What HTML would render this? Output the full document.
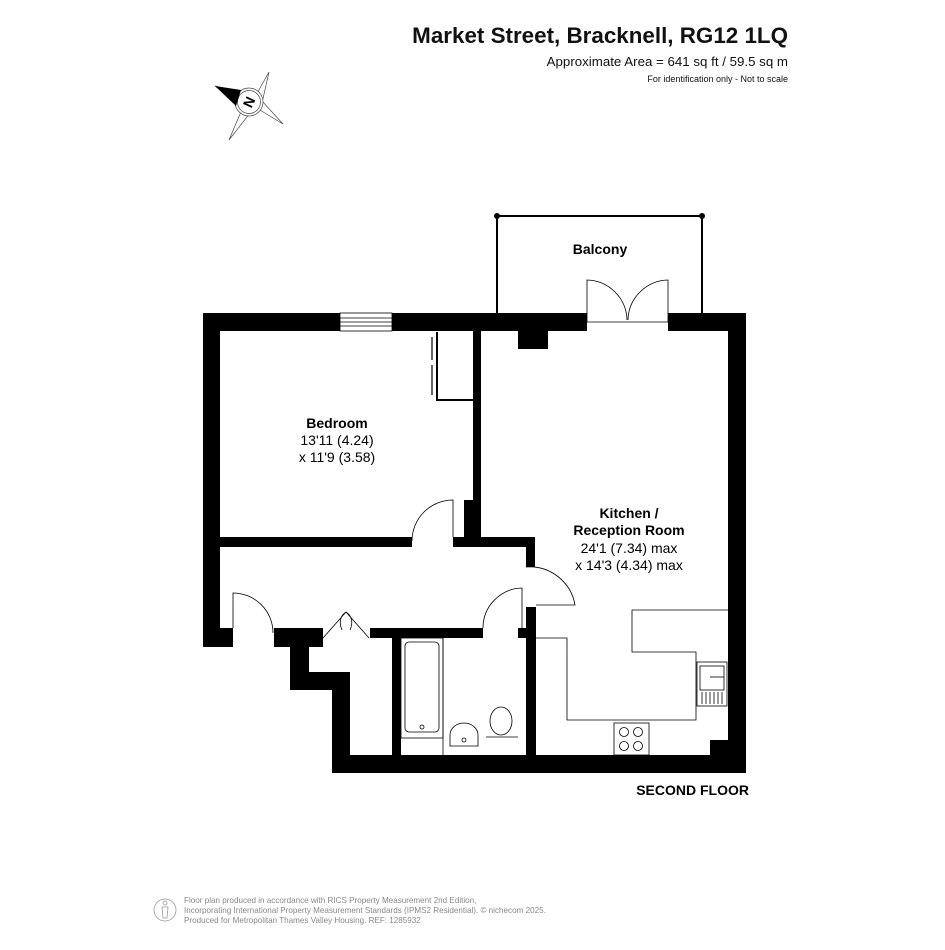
<!DOCTYPE html>
<html><head><style>
body{margin:0;background:#fff;width:945px;height:945px;overflow:hidden;font-family:"Liberation Sans",Arial,sans-serif}
</style></head><body>
<svg width="945" height="945" viewBox="0 0 945 945" xmlns="http://www.w3.org/2000/svg" font-family="Liberation Sans, Arial, sans-serif">
<rect width="945" height="945" fill="#fff"/>
<text x="788" y="43" text-anchor="end" font-size="22.4" font-weight="bold" fill="#111">Market Street, Bracknell, RG12 1LQ</text>
<text x="788" y="66" text-anchor="end" font-size="13.3" fill="#111">Approximate Area = 641 sq ft / 59.5 sq m</text>
<text x="788" y="82" text-anchor="end" font-size="9" fill="#111">For identification only - Not to scale</text>
<!-- compass -->
<g stroke="#444" stroke-width="0.7" fill="#fff">
<path d="M269,72 L255,97 L262,103 Z M283,124 L255,107 L262,101 Z M229,140 L243,107 L254,108 Z M215,86 L244,108 L253,96 Z"/>
<circle cx="249" cy="102" r="14"/>
<circle cx="249" cy="102" r="11.5"/>
</g>
<polygon points="215,86 241,90 236,106" fill="#000"/>
<text x="249" y="107" text-anchor="middle" font-size="14" font-weight="bold" transform="rotate(-65 249 102)">N</text>
<!-- balcony -->
<g stroke="#000" stroke-width="2" fill="none">
<path d="M497,313 L497,216 L702,216 L702,313"/>
</g>
<circle cx="497" cy="216" r="3"/><circle cx="702" cy="216" r="3"/>
<g stroke="#000" stroke-width="0.8" fill="none">
<path d="M587,322 L587,280 A41,41 0 0 1 627,320"/>
<path d="M668,322 L668,280 A41,41 0 0 0 628,320"/>
<line x1="587" y1="322" x2="668" y2="322"/>
</g>
<text x="600" y="254" text-anchor="middle" font-size="14" font-weight="bold">Balcony</text>
<!-- walls -->
<g fill="#000">
<rect x="203" y="313" width="137" height="18"/>
<rect x="392" y="313" width="195" height="18"/>
<rect x="668" y="313" width="78" height="18"/>
<rect x="728" y="313" width="18" height="460"/>
<rect x="203" y="313" width="17" height="334"/>
<rect x="203" y="628" width="30" height="19"/>
<rect x="274" y="628" width="49" height="19"/>
<rect x="370" y="628" width="113" height="10"/>
<rect x="290" y="628" width="19" height="62"/>
<rect x="290" y="672" width="60" height="18"/>
<rect x="332" y="672" width="18" height="101"/>
<rect x="332" y="755" width="414" height="18"/>
<rect x="392" y="638" width="9" height="135"/>
<rect x="526" y="607" width="10" height="150"/>
<rect x="220" y="537" width="192" height="10"/>
<rect x="453" y="537" width="82" height="10"/>
<rect x="526" y="537" width="9" height="30"/>
<rect x="473" y="331" width="8" height="216"/>
<rect x="464" y="500" width="17" height="47"/>
<rect x="518" y="331" width="30" height="18"/>
<rect x="710" y="740" width="18" height="16"/>
<rect x="518" y="628" width="8" height="10"/>
</g>
<!-- window -->
<g stroke="#000" stroke-width="0.8" fill="none">
<rect x="340" y="313" width="52" height="18"/>
<line x1="340" y1="322" x2="392" y2="322"/>
<line x1="340" y1="318" x2="392" y2="318"/>
<line x1="340" y1="326" x2="392" y2="326"/>
</g>
<!-- wardrobe -->
<g stroke="#000" fill="none">
<path d="M437,332 L437,400 L473,400" stroke-width="2"/>
<path d="M432,337 L432,360 M432,365 L432,395" stroke-width="1.2"/>
</g>
<!-- doors -->
<g stroke="#000" stroke-width="0.8" fill="none">
<path d="M453,537 L453,500 A41,41 0 0 0 412,541"/>
<path d="M233,628 L233,593 A40,40 0 0 1 273,633"/>
<path d="M522,632 L522,588 A40,40 0 0 0 483,628"/>
<path d="M526,567 A46,46 0 0 1 575,605 L536,605"/>
<path d="M323,638 L346,612 L369,638 M346,612 Q337,618 342,630 M346,612 Q355,618 350,630"/>
<path d="M443,638 L443,755"/>
</g>
<!-- bath -->
<g stroke="#000" stroke-width="0.8" fill="none">
<rect x="401" y="638" width="42" height="100"/>
<rect x="405" y="642" width="34" height="90" rx="4"/>
<circle cx="422" cy="727" r="2"/>
<path d="M450,746 L450,735 A14,12 0 0 1 478,735 L478,746 Z"/>
<circle cx="464" cy="740" r="2"/>
<ellipse cx="501" cy="721" rx="11" ry="14"/>
<path d="M486,737 L518,737"/>
<!-- kitchen -->
<path d="M536,638 L567,638 L567,720 L696,720 L696,652 L632,652 L632,610 L728,610"/>
<rect x="697" y="662" width="30" height="44"/>
<rect x="700" y="666" width="24" height="24"/>
<path d="M702,692 L702,704 M706,692 L706,704 M710,692 L710,704 M714,692 L714,704 M718,692 L718,704 M722,692 L722,704"/>
<line x1="710" y1="677" x2="724" y2="677"/>
<rect x="614" y="723" width="35" height="32"/>
<circle cx="624" cy="732" r="4.5"/><circle cx="638" cy="732" r="4.5"/>
<circle cx="624" cy="746" r="4.5"/><circle cx="638" cy="746" r="4.5"/>
</g>
<!-- labels -->
<g text-anchor="middle" font-size="14" fill="#000">
<text x="337" y="428" font-weight="bold">Bedroom</text>
<text x="337" y="445">13'11 (4.24)</text>
<text x="337" y="462">x 11'9 (3.58)</text>
<text x="629" y="518" font-weight="bold">Kitchen /</text>
<text x="629" y="535" font-weight="bold">Reception Room</text>
<text x="629" y="553">24'1 (7.34) max</text>
<text x="629" y="570">x 14'3 (4.34) max</text>
</g>
<text x="749" y="795" text-anchor="end" font-size="14" font-weight="bold">SECOND FLOOR</text>
<!-- footer -->
<g fill="#888" font-size="8.1">
<text x="184" y="903">Floor plan produced in accordance with RICS Property Measurement 2nd Edition,</text>
<text x="184" y="913">Incorporating International Property Measurement Standards (IPMS2 Residential).   © nichecom 2025.</text>
<text x="184" y="923">Produced for Metropolitan Thames Valley Housing.   REF: 1285932</text>
</g>
<g stroke="#999" stroke-width="0.8" fill="none">
<circle cx="165" cy="910" r="11"/>
<circle cx="165" cy="903" r="2"/>
<path d="M162,907 L168,907 L167,918 L163,918 Z"/>
</g>
</svg>
</body></html>
